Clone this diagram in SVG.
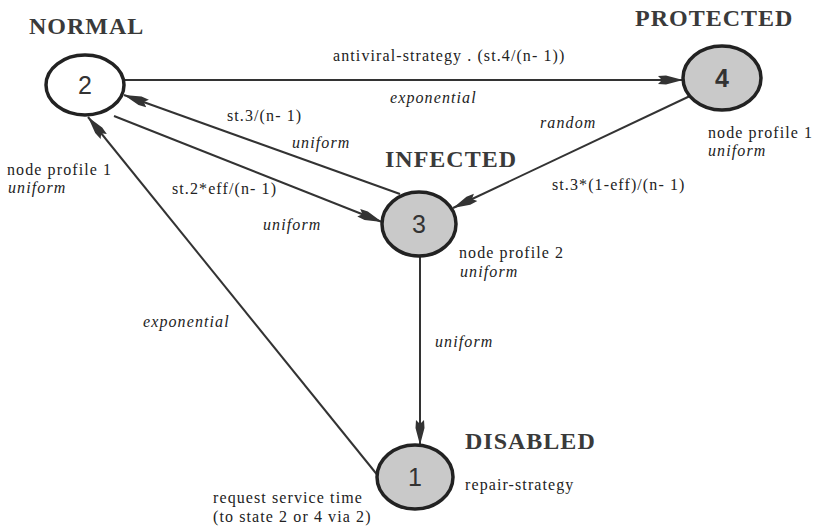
<svg xmlns="http://www.w3.org/2000/svg" width="823" height="526" viewBox="0 0 823 526">
<style>
.title{font-family:"Liberation Serif",serif;font-weight:bold;font-size:24px;letter-spacing:1px;fill:#3a3a3a}
.lbl{font-family:"Liberation Serif",serif;font-size:16px;letter-spacing:1.1px;fill:#222}
.it{font-family:"Liberation Serif",serif;font-style:italic;font-size:16px;letter-spacing:1.1px;fill:#222}
.node{stroke:#222;stroke-width:3.5}
.white{fill:#fff}
.gray{fill:#c9c9c9}
.num{font-family:"Liberation Sans",sans-serif;font-size:25px;fill:#333;text-anchor:middle}
.edge{stroke:#333;stroke-width:2;fill:none;marker-end:url(#arr)}
</style>
<defs>
<marker id="arr" markerUnits="userSpaceOnUse" markerWidth="26" markerHeight="10" refX="25" refY="5" orient="auto">
<path d="M0,1 L8,0.5 L25,5 L8,9.5 L0,9 L4,5 z" fill="#333"/>
</marker>
</defs>
<rect width="823" height="526" fill="#fff"/>
<g id="connectors">
<line class="edge" x1="124" y1="80" x2="683" y2="80"/>
<line class="edge" x1="400" y1="194" x2="124" y2="95"/>
<line class="edge" x1="114" y1="116" x2="382" y2="222"/>
<line class="edge" x1="690" y1="96" x2="453" y2="208"/>
<line class="edge" x1="420" y1="256" x2="420" y2="445"/>
<line class="edge" x1="379" y1="477" x2="88" y2="117"/>
</g>
<g id="node2">
<ellipse class="node white" cx="85" cy="85" rx="39" ry="30"/>
<text class="num" x="85" y="94">2</text>
<text class="title" x="29" y="34">NORMAL</text>
<text class="lbl" x="7" y="175">node profile 1</text>
<text class="it" x="8" y="193">uniform</text>
</g>
<g id="node4">
<ellipse class="node gray" cx="722" cy="78" rx="39" ry="32"/>
<text class="num" x="722" y="87" font-weight="bold">4</text>
<text class="title" x="635" y="26">PROTECTED</text>
<text class="lbl" x="708" y="138">node profile 1</text>
<text class="it" x="708" y="156">uniform</text>
</g>
<g id="node3">
<ellipse class="node gray" cx="419" cy="224" rx="37" ry="32"/>
<text class="num" x="419" y="233">3</text>
<text class="title" x="385" y="167">INFECTED</text>
<text class="lbl" x="459" y="258">node profile 2</text>
<text class="it" x="460" y="277">uniform</text>
</g>
<g id="node1">
<ellipse class="node gray" cx="415" cy="477" rx="38" ry="32"/>
<text class="num" x="415" y="486">1</text>
<text class="title" x="465" y="449">DISABLED</text>
<text class="lbl" x="465" y="490">repair-strategy</text>
<text class="lbl" x="213" y="503">request service time</text>
<text class="lbl" x="213" y="522">(to state 2 or 4 via 2)</text>
</g>
<g id="edge-labels">
<text class="lbl" x="333" y="61">antiviral-strategy . (st.4/(n- 1))</text>
<text class="it" x="390" y="103">exponential</text>
<text class="lbl" x="227" y="121">st.3/(n- 1)</text>
<text class="it" x="292" y="148">uniform</text>
<text class="it" x="540" y="128">random</text>
<text class="lbl" x="552" y="190">st.3*(1-eff)/(n- 1)</text>
<text class="lbl" x="172" y="194">st.2*eff/(n- 1)</text>
<text class="it" x="263" y="230">uniform</text>
<text class="it" x="143" y="327">exponential</text>
<text class="it" x="435" y="347">uniform</text>
</g>
</svg>
